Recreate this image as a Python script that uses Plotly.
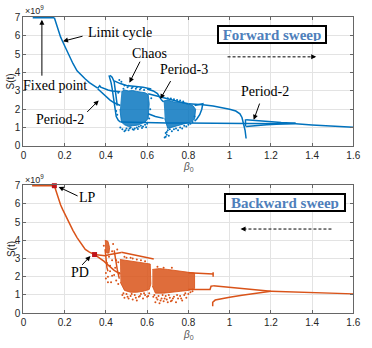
import plotly.graph_objects as go

BLUE = "#0072BD"
ORANGE = "#D95319"
MARK = "#C0141A"

# ---------------- Forward sweep (top) ----------------
fw_fixed_x = [0.045, 0.15]
fw_fixed_y = [7.0, 7.0]
fw_main_x = [0.15, 0.16, 0.17, 0.18, 0.19, 0.20, 0.22, 0.24, 0.26, 0.28, 0.30, 0.32, 0.34, 0.36]
fw_main_y = [7.0, 6.6, 6.25, 5.95, 5.7, 5.45, 4.95, 4.5, 4.1, 3.85, 3.65, 3.45, 3.28, 3.15]
fw_p2u_x = [0.36, 0.37, 0.375, 0.39, 0.41, 0.43, 0.45, 0.47]
fw_p2u_y = [3.15, 3.28, 3.2, 3.12, 3.05, 3.0, 2.97, 2.95]
fw_p2l_x = [0.36, 0.38, 0.40, 0.42, 0.44, 0.47]
fw_p2l_y = [3.12, 2.9, 2.7, 2.5, 2.35, 2.2]
fw_v_x = [0.415, 0.42, 0.425, 0.43, 0.435, 0.44, 0.445, 0.45, 0.46, 0.47]
fw_v_y = [3.85, 3.7, 3.45, 3.15, 2.8, 2.4, 1.95, 1.6, 1.4, 1.3]
fw_v2_x = [0.42, 0.43, 0.44, 0.445, 0.45, 0.455]
fw_v2_y = [3.85, 3.75, 3.5, 3.1, 2.6, 2.2]
fw_top_x = [0.44, 0.47, 0.50, 0.54, 0.58, 0.62]
fw_top_y = [3.55, 3.4, 3.3, 3.25, 3.2, 3.1]
fw_cA_x = [0.475, 0.49, 0.51, 0.53, 0.55, 0.57, 0.59, 0.605, 0.61, 0.605, 0.59, 0.57, 0.55, 0.53, 0.51, 0.49, 0.475, 0.468]
fw_cA_y = [2.95, 3.05, 3.0, 3.02, 2.97, 2.95, 2.9, 2.8, 2.3, 1.5, 1.3, 1.2, 1.12, 1.1, 1.05, 1.15, 1.3, 2.0]
fw_sA_x = [0.47, 0.48, 0.49, 0.50, 0.51, 0.52, 0.53, 0.54, 0.55, 0.56, 0.57, 0.58, 0.59, 0.60,
           0.485, 0.505, 0.525, 0.545, 0.565, 0.585, 0.61, 0.615, 0.62, 0.49, 0.51, 0.53,
           0.55, 0.57, 0.455, 0.46, 0.465, 0.45, 0.475, 0.495, 0.515, 0.535, 0.555, 0.575, 0.595]
fw_sA_y = [1.0, 0.9, 0.8, 0.95, 0.85, 1.0, 0.9, 0.95, 1.0, 1.05, 1.1, 1.05, 1.15, 1.2,
           3.12, 3.2, 3.15, 3.12, 3.08, 3.05, 1.5, 2.0, 2.6, 3.3, 3.28, 3.22,
           3.2, 3.15, 1.7, 2.9, 3.6, 1.9, 3.5, 0.85, 0.95, 0.88, 0.92, 0.98, 1.02]
fw_p3a_x = [0.60, 0.63, 0.65, 0.66, 0.67, 0.68]
fw_p3a_y = [3.1, 3.0, 2.85, 2.65, 2.5, 2.4]
fw_p3b_x = [0.605, 0.64, 0.68, 0.72, 0.76, 0.80]
fw_p3b_y = [2.85, 2.75, 2.6, 2.5, 2.4, 2.3]
fw_p3c_x = [0.605, 0.64, 0.68]
fw_p3c_y = [1.75, 1.6, 1.5]
fw_cB_x = [0.68, 0.70, 0.73, 0.76, 0.79, 0.82, 0.835, 0.83, 0.81, 0.78, 0.75, 0.72, 0.70, 0.685]
fw_cB_y = [2.45, 2.5, 2.4, 2.38, 2.3, 2.22, 2.0, 1.45, 1.3, 1.2, 1.1, 1.0, 0.95, 1.5]
fw_sB_x = [0.685, 0.69, 0.695, 0.70, 0.705, 0.71, 0.72, 0.73, 0.74, 0.75, 0.76, 0.77, 0.78,
           0.79, 0.80, 0.81, 0.82, 0.83, 0.70, 0.715, 0.73, 0.745, 0.76, 0.775, 0.69, 0.695]
fw_sB_y = [0.45, 0.7, 0.6, 0.85, 0.55, 0.9, 0.8, 0.9, 0.95, 0.85, 1.0, 0.95, 1.1,
           1.05, 1.15, 1.2, 1.3, 1.6, 2.6, 2.58, 2.55, 2.5, 2.48, 2.42, 0.5, 0.75]
fw_low_x = [0.47, 0.52, 0.58, 0.64, 0.70, 0.78, 0.86, 0.94, 1.0, 1.05, 1.077]
fw_low_y = [1.3, 1.28, 1.27, 1.26, 1.25, 1.25, 1.25, 1.24, 1.24, 1.23, 1.22]
fw_up_x = [0.80, 0.87, 0.92, 0.97, 1.0, 1.03, 1.05, 1.06, 1.068, 1.075, 1.08]
fw_up_y = [2.3, 2.25, 2.17, 2.08, 2.0, 1.9, 1.75, 1.55, 1.25, 0.85, 0.4]
fw_loop_x = [0.83, 0.87, 0.865, 0.855, 0.84, 0.83]
fw_loop_y = [2.2, 2.3, 2.0, 1.7, 1.45, 1.35]
fw_bar_x = [1.077, 1.077]
fw_bar_y = [1.05, 1.45]
fw_p2ru_x = [1.08, 1.12, 1.18, 1.25, 1.32]
fw_p2ru_y = [1.42, 1.38, 1.32, 1.27, 1.23]
fw_p2rl_x = [1.08, 1.12, 1.18, 1.25, 1.32]
fw_p2rl_y = [1.05, 1.1, 1.15, 1.19, 1.23]
fw_tail_x = [1.077, 1.2, 1.32, 1.4, 1.5, 1.6]
fw_tail_y = [1.22, 1.22, 1.2, 1.14, 1.08, 1.02]

# ---------------- Backward sweep (bottom) ----------------
bw_fixed_x = [0.042, 0.15]
bw_fixed_y = [7.0, 7.0]
bw_main_x = [0.15, 0.16, 0.17, 0.18, 0.19, 0.20, 0.22, 0.24, 0.26, 0.28, 0.30, 0.32, 0.345]
bw_main_y = [7.0, 6.6, 6.25, 5.95, 5.7, 5.45, 5.0, 4.55, 4.15, 3.8, 3.5, 3.35, 3.22]
bw_lp_x = [0.15]
bw_lp_y = [7.0]
bw_pd_x = [0.345]
bw_pd_y = [3.22]
bw_p2u_x = [0.345, 0.37, 0.395, 0.42, 0.45, 0.475]
bw_p2u_y = [3.22, 3.18, 3.15, 3.22, 3.28, 3.33]
bw_p2l_x = [0.345, 0.37, 0.39, 0.41, 0.44, 0.47]
bw_p2l_y = [3.22, 3.02, 2.86, 2.65, 2.35, 2.15]
bw_top_x = [0.475, 0.52, 0.56, 0.60, 0.632]
bw_top_y = [3.35, 3.25, 3.15, 3.05, 2.98]
bw_cA_x = [0.395, 0.41, 0.418, 0.415, 0.405, 0.396]
bw_cA_y = [4.0, 3.95, 3.6, 3.3, 3.3, 3.5]
bw_va_x = [0.396, 0.40, 0.405, 0.41]
bw_va_y = [3.5, 3.0, 2.5, 2.3]
bw_vb_x = [0.44, 0.445, 0.455, 0.465]
bw_vb_y = [3.45, 3.0, 2.4, 1.9]
bw_sA_x = [0.39, 0.40, 0.41, 0.42, 0.43, 0.44, 0.45, 0.46, 0.40, 0.415, 0.43, 0.45, 0.425,
           0.435, 0.455, 0.405, 0.42, 0.43, 0.445, 0.46, 0.465, 0.41]
bw_sA_y = [3.7, 2.2, 2.0, 2.6, 3.4, 2.1, 1.8, 1.6, 1.9, 3.1, 2.9, 2.9, 1.7,
           3.8, 3.5, 2.75, 2.3, 2.05, 2.5, 2.8, 2.2, 1.7]
bw_cB_x = [0.468, 0.50, 0.53, 0.56, 0.59, 0.615, 0.618, 0.61, 0.58, 0.55, 0.52, 0.49, 0.47]
bw_cB_y = [2.95, 2.9, 2.85, 2.8, 2.75, 2.7, 1.6, 1.3, 1.2, 1.15, 1.15, 1.25, 1.7]
bw_sB_x = [0.48, 0.49, 0.50, 0.51, 0.52, 0.53, 0.54, 0.55, 0.56, 0.57, 0.58, 0.59, 0.60,
           0.61, 0.50, 0.53, 0.57, 0.485, 0.505, 0.525, 0.545, 0.565, 0.585, 0.605, 0.49, 0.52, 0.55, 0.59]
bw_sB_y = [1.0, 0.85, 1.05, 0.8, 0.95, 0.75, 1.0, 0.7, 0.9, 1.05, 0.8, 1.0, 0.9,
           1.1, 3.05, 3.0, 2.9, 1.1, 0.9, 1.05, 0.85, 0.95, 1.1, 0.95, 3.1, 3.05, 2.95, 2.85]
bw_cC_x = [0.625, 0.66, 0.70, 0.74, 0.78, 0.81, 0.83, 0.83, 0.80, 0.76, 0.72, 0.68, 0.64, 0.625]
bw_cC_y = [2.4, 2.45, 2.4, 2.35, 2.3, 2.25, 2.2, 1.35, 1.25, 1.2, 1.15, 1.1, 1.1, 1.5]
bw_sC_x = [0.63, 0.64, 0.65, 0.66, 0.67, 0.68, 0.69, 0.70, 0.71, 0.72, 0.73, 0.74, 0.75, 0.76,
           0.77, 0.78, 0.79, 0.80, 0.65, 0.68, 0.72, 0.635, 0.645, 0.655, 0.665, 0.675, 0.685,
           0.695, 0.705, 0.715, 0.725, 0.745, 0.765, 0.785, 0.81, 0.82]
bw_sC_y = [0.9, 0.6, 0.75, 0.55, 0.8, 0.65, 0.95, 0.6, 0.85, 0.7, 0.9, 0.6, 0.8, 0.95,
           0.7, 1.0, 0.85, 1.05, 2.55, 2.5, 2.5, 1.0, 0.85, 0.95, 0.7, 1.0, 0.8,
           0.75, 1.0, 0.65, 0.8, 1.0, 0.8, 1.1, 1.15, 1.2]
bw_up_x = [0.80, 0.85, 0.92]
bw_up_y = [2.22, 2.18, 2.15]
bw_bar_x = [0.92, 0.92]
bw_bar_y = [2.0, 2.25]
bw_low_x = [0.80, 0.85, 0.905, 0.91, 0.92]
bw_low_y = [1.3, 1.3, 1.3, 1.48, 1.5]
bw_p2u_r_x = [0.92, 1.0, 1.08, 1.15, 1.2]
bw_p2u_r_y = [1.5, 1.42, 1.33, 1.25, 1.2]
bw_p2l_r_x = [0.918, 0.918, 0.93, 0.96, 1.0, 1.06, 1.12, 1.2]
bw_p2l_r_y = [0.38, 0.6, 0.72, 0.8, 0.88, 0.98, 1.08, 1.2]
bw_tail_x = [1.2, 1.3, 1.4, 1.5, 1.6]
bw_tail_y = [1.2, 1.16, 1.12, 1.09, 1.06]

x_ticks = [0, 0.2, 0.4, 0.6, 0.8, 1, 1.2, 1.4, 1.6]
y_ticks = [0, 1, 2, 3, 4, 5, 6, 7]

fig = go.Figure()


def line(xs, ys, color, xa, ya, width=1.5):
    fig.add_trace(go.Scatter(x=xs, y=ys, mode="lines", xaxis=xa, yaxis=ya,
                             line=dict(color=color, width=width), hoverinfo="skip"))


def cloud(xs, ys, color, fill, xa, ya):
    fig.add_trace(go.Scatter(x=xs, y=ys, mode="lines", fill="toself", xaxis=xa, yaxis=ya,
                             fillcolor=fill, line=dict(color=fill, width=1), hoverinfo="skip"))


def dots(xs, ys, color, xa, ya):
    fig.add_trace(go.Scatter(x=xs, y=ys, mode="markers", xaxis=xa, yaxis=ya,
                             marker=dict(color=color, size=2, line=dict(width=0)), hoverinfo="skip"))


BLUE_F = "rgba(0,114,189,0.82)"
ORANGE_F = "rgba(217,83,25,0.85)"

# top panel
cloud(fw_cA_x, fw_cA_y, BLUE, BLUE_F, "x", "y")
cloud(fw_cB_x, fw_cB_y, BLUE, BLUE_F, "x", "y")
for xs, ys in [(fw_fixed_x, fw_fixed_y), (fw_main_x, fw_main_y), (fw_p2u_x, fw_p2u_y),
               (fw_p2l_x, fw_p2l_y), (fw_v_x, fw_v_y), (fw_v2_x, fw_v2_y), (fw_top_x, fw_top_y),
               (fw_p3a_x, fw_p3a_y), (fw_p3b_x, fw_p3b_y), (fw_p3c_x, fw_p3c_y),
               (fw_low_x, fw_low_y), (fw_up_x, fw_up_y), (fw_loop_x, fw_loop_y),
               (fw_bar_x, fw_bar_y), (fw_p2ru_x, fw_p2ru_y), (fw_p2rl_x, fw_p2rl_y),
               (fw_tail_x, fw_tail_y)]:
    line(xs, ys, BLUE, "x", "y")
dots(fw_sA_x, fw_sA_y, BLUE, "x", "y")
dots(fw_sB_x, fw_sB_y, BLUE, "x", "y")

# bottom panel
cloud(bw_cA_x, bw_cA_y, ORANGE, ORANGE_F, "x2", "y2")
cloud(bw_cB_x, bw_cB_y, ORANGE, ORANGE_F, "x2", "y2")
cloud(bw_cC_x, bw_cC_y, ORANGE, ORANGE_F, "x2", "y2")
for xs, ys in [(bw_fixed_x, bw_fixed_y), (bw_main_x, bw_main_y), (bw_p2u_x, bw_p2u_y),
               (bw_p2l_x, bw_p2l_y), (bw_top_x, bw_top_y), (bw_va_x, bw_va_y),
               (bw_vb_x, bw_vb_y), (bw_up_x, bw_up_y), (bw_bar_x, bw_bar_y),
               (bw_low_x, bw_low_y), (bw_p2u_r_x, bw_p2u_r_y), (bw_p2l_r_x, bw_p2l_r_y),
               (bw_tail_x, bw_tail_y)]:
    line(xs, ys, ORANGE, "x2", "y2")
dots(bw_sA_x, bw_sA_y, ORANGE, "x2", "y2")
dots(bw_sB_x, bw_sB_y, ORANGE, "x2", "y2")
dots(bw_sC_x, bw_sC_y, ORANGE, "x2", "y2")
fig.add_trace(go.Scatter(x=bw_lp_x + bw_pd_x, y=bw_lp_y + bw_pd_y, mode="markers",
                         xaxis="x2", yaxis="y2", cliponaxis=False,
                         marker=dict(color=MARK, size=5, symbol="square"), hoverinfo="skip"))

AX = dict(range=[0, 1.6], tickvals=x_ticks, showgrid=True, gridcolor="#e3e3e3", gridwidth=1,
          zeroline=False, showline=True, linecolor="#666666", linewidth=1, mirror="ticks",
          ticks="inside", ticklen=3, tickcolor="#666666",
          tickfont=dict(family="Liberation Sans, Arial", size=10, color="#262626"))
AY = dict(range=[0, 7.04], tickvals=y_ticks, showgrid=True, gridcolor="#e3e3e3", gridwidth=1,
          zeroline=False, showline=True, linecolor="#666666", linewidth=1, mirror="ticks",
          ticks="inside", ticklen=3, tickcolor="#666666",
          tickfont=dict(family="Liberation Sans, Arial", size=10, color="#262626"))

W, H = 372, 348
xd = [21 / W, 360 / W]
fig.update_layout(
    width=W, height=H, margin=dict(l=0, r=0, t=0, b=0),
    paper_bgcolor="white", plot_bgcolor="white", showlegend=False,
    xaxis=dict(AX, domain=xd, anchor="y"),
    yaxis=dict(AY, domain=[1 - 145 / H, 1 - 12.3 / H], anchor="x"),
    xaxis2=dict(AX, domain=xd, anchor="y2"),
    yaxis2=dict(AY, domain=[1 - 317.3 / H, 1 - 185.3 / H], anchor="x2"),
)

SERIF = "Liberation Serif, Times New Roman, serif"
ann = []


def text(x, y, s, xr, yr, size=14, **kw):
    d = dict(x=x, y=y, text=s, xref=xr, yref=yr, showarrow=False,
             xanchor="center", yanchor="middle",
             font=dict(family=SERIF, size=size, color="black"))
    d.update(kw)
    ann.append(d)


def arrow(tx, ty, hx, hy, xr, yr):
    ann.append(dict(x=hx, y=hy, ax=tx, ay=ty, xref=xr, yref=yr, axref=xr, ayref=yr,
                    text="", showarrow=True, arrowhead=2, arrowsize=1, arrowwidth=1,
                    arrowcolor="black", standoff=0, startstandoff=0))


# top annotations
text(0.302, 6.2, "Limit cycle", "x", "y", xanchor="left")
arrow(0.294, 6.01, 0.192, 5.71, "x", "y")
text(0.152, 3.3, "Fixed point", "x", "y")
arrow(0.0896, 3.75, 0.0896, 6.89, "x", "y")
text(0.179, 1.45, "Period-2", "x", "y")
arrow(0.302, 1.77, 0.365, 2.48, "x", "y")
text(0.611, 5.06, "Chaos", "x", "y")
arrow(0.569, 4.68, 0.514, 3.45, "x", "y")
text(0.778, 4.17, "Period-3", "x", "y")
arrow(0.718, 3.62, 0.664, 2.56, "x", "y")
text(1.17, 2.95, "Period-2", "x", "y")
arrow(1.148, 2.39, 1.117, 1.42, "x", "y")
text(1.207, 6.08, "<b>Forward sweep</b>", "x", "y",
     font=dict(family=SERIF, size=15, color="#4F7FBB"),
     bgcolor="white", bordercolor="black", borderwidth=2, borderpad=1, width=104, height=13)
arrow(1.40, 4.86, 1.42, 4.86, "x", "y")

# bottom annotations
text(0.309, 6.33, "LP", "x2", "y2")
arrow(0.27, 6.4, 0.171, 6.93, "x2", "y2")
text(0.272, 2.24, "PD", "x2", "y2")
arrow(0.278, 2.57, 0.325, 3.14, "x2", "y2")
text(1.27, 6.06, "<b>Backward sweep</b>", "x2", "y2",
     font=dict(family=SERIF, size=15, color="#4F7FBB"),
     bgcolor="white", bordercolor="black", borderwidth=2, borderpad=1, width=116, height=13)
arrow(1.075, 4.62, 1.053, 4.62, "x2", "y2")

# axis labels
GRAY = "#555555"
for yc, ytit, yexp in [(79, 167, 5), (251.5, 339.5, 179)]:
    ann.append(dict(x=8 / W, y=1 - yc / H, xref="paper", yref="paper", text="S(t)",
                    textangle=-90, showarrow=False, xanchor="center", yanchor="middle",
                    font=dict(family="Liberation Sans, Arial", size=10, color="#262626")))
    ann.append(dict(x=190.5 / W, y=1 - ytit / H, xref="paper", yref="paper",
                    text="<i>β</i><sub>0</sub>", showarrow=False, xanchor="center", yanchor="middle",
                    font=dict(family="Liberation Sans, Arial", size=10, color=GRAY)))
    ann.append(dict(x=21 / W, y=1 - yexp / H, xref="paper", yref="paper",
                    text="×10<sup>9</sup>", showarrow=False, xanchor="left", yanchor="middle",
                    font=dict(family="Liberation Sans, Arial", size=9, color="#262626")))

fig.update_layout(annotations=ann)

# dashed direction lines
fig.add_shape(type="line", x0=0.99, x1=1.41, y0=4.86, y1=4.86, xref="x", yref="y",
              line=dict(color="black", width=1, dash="3px,2px"))
fig.add_shape(type="line", x0=1.494, x1=1.06, y0=4.62, y1=4.62, xref="x2", yref="y2",
              line=dict(color="black", width=1, dash="3px,2px"))

fig.write_html("out.html")
